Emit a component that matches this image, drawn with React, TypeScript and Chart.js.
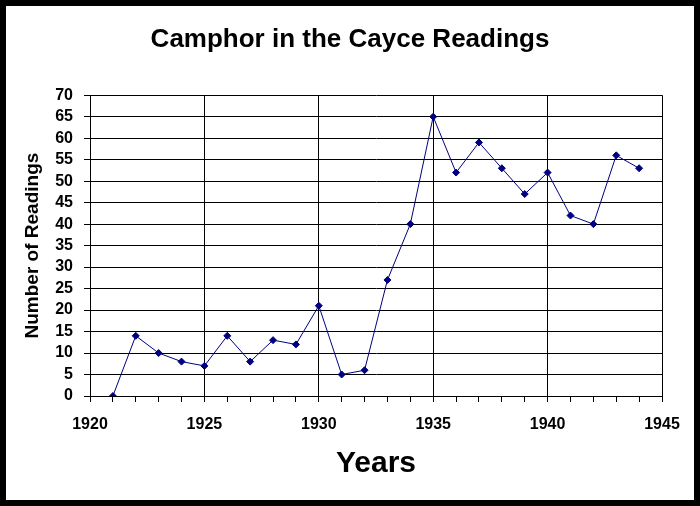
import React, { useEffect, useRef } from "react";
import Chart from "chart.js/auto";

const years = [
  1921, 1922, 1923, 1924, 1925, 1926, 1927, 1928, 1929, 1930, 1931, 1932,
  1933, 1934, 1935, 1936, 1937, 1938, 1939, 1940, 1941, 1942, 1943, 1944,
];
const readings = [
  0, 14, 10, 8, 7, 14, 8, 13, 12, 21, 5, 6, 27, 40, 65, 52, 59, 53, 47, 52,
  42, 40, 56, 53,
];
const xRange = [1920, 1945];
const yRange = [0, 70];

const FONT = "'Liberation Sans', Arial, sans-serif";

// black frame round the white picture
const framePlugin = {
  id: "frame",
  beforeDraw(chart: any) {
    const { ctx, width, height } = chart;
    ctx.save();
    ctx.fillStyle = "#000";
    ctx.fillRect(0, 0, width, height);
    ctx.fillStyle = "#fff";
    ctx.fillRect(6, 6, width - 12, height - 12);
    ctx.restore();
  },
};

const CamphorChart: React.FC = () => {
  const canvasRef = useRef<HTMLCanvasElement | null>(null);
  const chartRef = useRef<Chart | null>(null);

  useEffect(() => {
    if (!canvasRef.current) return;
    if (chartRef.current) chartRef.current.destroy();

    const ctx = canvasRef.current.getContext("2d");
    if (!ctx) return;

    chartRef.current = new Chart(ctx, {
      type: "line",
      data: {
        datasets: [
          {
            label: "Camphor",
            data: years.map((y, i) => ({ x: y, y: readings[i] })),
            borderColor: "#000080",
            backgroundColor: "#000080",
            borderWidth: 1,
            pointStyle: "rectRot",
            pointRadius: 3.5,
            pointBorderWidth: 1,
            tension: 0,
          },
        ],
      },
      options: {
        animation: false,
        responsive: false,
        layout: { padding: 0 },
        plugins: {
          legend: { display: false },
          tooltip: { enabled: false },
          title: {
            display: true,
            text: "Camphor in the Cayce Readings",
            color: "#000",
            font: { family: FONT, size: 26, weight: "bold" },
            padding: { top: 24, bottom: 40 },
          },
        },
        scales: {
          x: {
            type: "linear",
            min: xRange[0],
            max: xRange[1],
            afterFit: (scale: any) => {
              scale.height = 110;
              scale.paddingRight = 38; // keeps the plot's right edge at 662
            },
            ticks: {
              stepSize: 1,
              autoSkip: false,
              maxRotation: 0,
              color: "#000",
              padding: 13,
              font: { family: FONT, size: 16, weight: "bold" },
              callback: (v: any) => (Number(v) % 5 === 0 ? String(v) : ""),
            },
            grid: {
              color: (c: any) =>
                c.tick && c.tick.value % 5 === 0 ? "#000" : "rgba(0,0,0,0)",
              tickColor: "#000",
              tickLength: 6,
              lineWidth: 1,
            },
            border: { color: "#000", width: 1 },
            title: {
              display: true,
              text: "Years",
              color: "#000",
              font: { family: FONT, size: 30, weight: "bold" },
              padding: { top: 0, bottom: 24 },
            },
          },
          y: {
            min: yRange[0],
            max: yRange[1],
            afterFit: (scale: any) => {
              scale.width = 90;
            },
            ticks: {
              stepSize: 5,
              autoSkip: false,
              color: "#000",
              padding: 11,
              font: { family: FONT, size: 16, weight: "bold" },
            },
            grid: {
              color: "#000",
              tickColor: "#000",
              tickLength: 6,
              lineWidth: 1,
            },
            border: { color: "#000", width: 1 },
            title: {
              display: true,
              text: "Number of Readings",
              color: "#000",
              font: { family: FONT, size: 19, weight: "bold" },
              padding: { top: 21, bottom: 0 },
            },
          },
        },
      },
      plugins: [framePlugin],
    });

    return () => {
      if (chartRef.current) {
        chartRef.current.destroy();
        chartRef.current = null;
      }
    };
  }, []);

  return (
    <div style={{ position: "fixed", left: 0, top: 0, width: 700, height: 506 }}>
      <canvas ref={canvasRef} width="700" height="506"></canvas>
    </div>
  );
};

export default function App() {
  return <CamphorChart />;
}
